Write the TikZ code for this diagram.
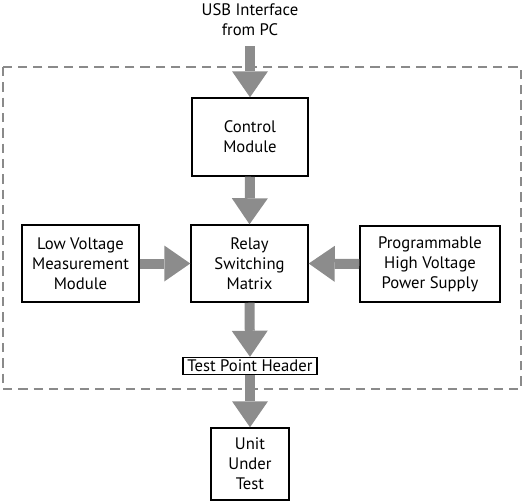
\documentclass[tikz,border=0pt]{standalone}
\usepackage{fontspec}
\setmainfont{PT Sans}
\usepackage{tikz}
\usetikzlibrary{positioning,arrows.meta,calc}
\definecolor{grisflecha}{HTML}{8C8C8C}
\definecolor{grismarco}{HTML}{8A8A8A}

\begin{document}
\begin{tikzpicture}[x=0.75pt, y=-0.75pt,
    bloque/.style={draw, line width=1.1pt, align=center, inner sep=2pt,
        font=\fontsize{12.5}{15}\selectfont},
    flecha/.style={grisflecha, line width=7.5pt,
        -{Triangle[width=27pt, length=19.5pt, line width=0pt]}}]
    \useasboundingbox (0,0) rectangle (522,501);

    % Marco discontinuo del equipo
    \draw[grismarco, line width=0.9pt, dash pattern=on 7pt off 4.5pt] (3,67) rectangle (521,389);

    % Definición de los bloques
    \node[align=center, font=\fontsize{12.5}{15}\selectfont] (usb) at (250,20) {USB Interface\\from PC};
    \coordinate (usbin) at (250,46);
    \node[bloque, minimum width=87pt, minimum height=58.5pt] (control) at (250,137) {Control\\Module};
    \node[bloque, minimum width=87.75pt, minimum height=57.75pt] (relay) at (249.5,263.5) {Relay\\Switching\\Matrix};
    \node[bloque, minimum width=87.75pt, minimum height=57.75pt] (lowv) at (80.5,263.5) {Low Voltage\\Measurement\\Module};
    \node[bloque, minimum width=105pt, minimum height=57pt] (hvps) at (430,264) {Programmable\\High Voltage\\Power Supply};
    \node[bloque, minimum width=100.5pt, minimum height=12.75pt, inner sep=0.5pt] (tph) at (250,366) {Test Point Header};
    \node[bloque, minimum width=58.5pt, minimum height=54pt] (uut) at (250,464) {Unit\\Under\\Test};

    % Definición de las flechas
    \draw[flecha] (usbin) -- (control.north);
    \draw[flecha] (control.south) -- (relay.north);
    \draw[flecha] (lowv.east) -- (relay.west);
    \draw[flecha] (hvps.west) -- (relay.east);
    \draw[flecha] (relay.south) -- (tph.north);
    \draw[flecha] (tph.south) -- (uut.north);
\end{tikzpicture}
\end{document}
